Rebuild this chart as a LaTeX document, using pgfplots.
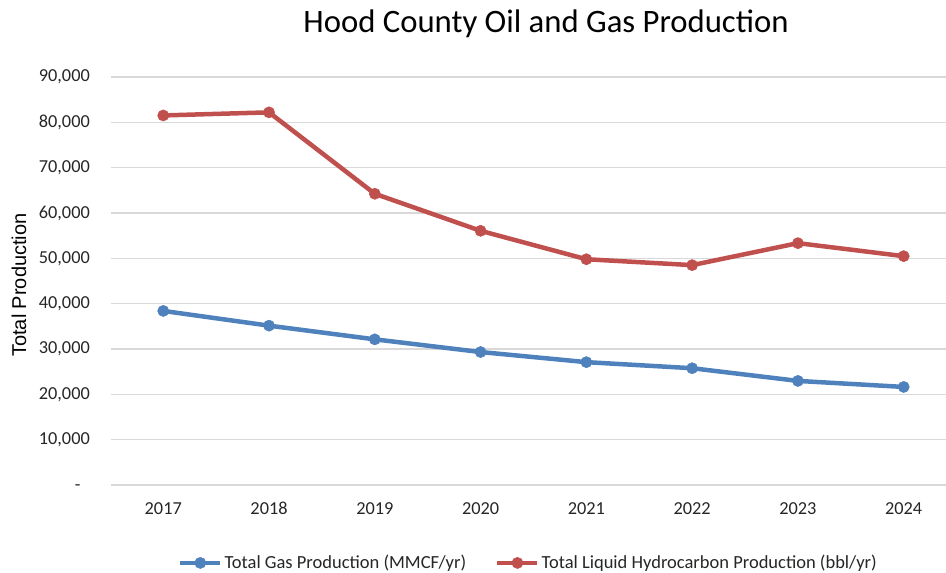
\documentclass[border=0pt]{standalone}
\usepackage{fontspec}
\setmainfont{Carlito}
\newfontfamily\arialfont{Liberation Sans}
\usepackage{pgfplots}
\pgfplotsset{compat=1.18}
\definecolor{gasblue}{HTML}{4F81BD}
\definecolor{liqred}{HTML}{C0504D}
\definecolor{gridgray}{HTML}{D9D9D9}
\begin{document}
\begin{tikzpicture}
\useasboundingbox (-111bp,-88bp) rectangle (835bp,485bp);
\begin{axis}[
  scale only axis,
  width=835bp, height=408bp,
  xmin=-0.494, xmax=7.40,
  ymin=0, ymax=90000,
  clip=false,
  scaled y ticks=false,
  axis line style={draw=none},
  tick style={draw=none},
  ymajorgrids,
  grid style={gridgray, line width=1.3bp},
  xtick={0,...,7},
  xticklabels={2017,2018,2019,2020,2021,2022,2023,2024},
  ytick={0,10000,20000,30000,40000,50000,60000,70000,80000,90000},
  yticklabels={{-\phantom{0}},{10,000},{20,000},{30,000},{40,000},{50,000},{60,000},{70,000},{80,000},{90,000}},
  /pgf/number format/assume math mode=true,
  ticklabel style={font=\fontsize{18.3bp}{22bp}\selectfont, text=black!85},
  yticklabel style={anchor=east, inner sep=0pt, xshift=-21bp},
  xticklabel style={anchor=north, inner sep=0pt, yshift=-17bp},
  legend style={draw=none, at={(rel axis cs:0.5,-0.191)}, anchor=center,
    legend columns=2, font=\fontsize{18.5bp}{22bp}\selectfont, text=black!85,
    /tikz/every even column/.append style={column sep=27bp},
    nodes={inner sep=2bp}},
  legend cell align=left,
  legend image code/.code={\draw[#1, mark repeat=2, mark phase=2] plot coordinates {(0bp,0bp) (20bp,0bp) (40bp,0bp)};},
]
\addplot[gasblue, line width=4.5bp, mark=*, mark size=5.6bp, mark options={solid, line width=0.5bp}] coordinates {
  (0,38400) (1,35150) (2,32130) (3,29330) (4,27100) (5,25760) (6,22960) (7,21630)};
\addlegendentry{Total Gas Production (MMCF/yr)}
\addplot[liqred, line width=4.5bp, mark=*, mark size=5.6bp, mark options={solid, line width=0.5bp}] coordinates {
  (0,81520) (1,82200) (2,64240) (3,56070) (4,49800) (5,48500) (6,53350) (7,50480)};
\addlegendentry{Total Liquid Hydrocarbon Production (bbl/yr)}
\node[anchor=base, font=\fontsize{32.7bp}{38bp}\selectfont, inner sep=0pt] at (rel axis cs:0.521,1.108) {Hood County Oil and Gas Production};
\node[rotate=90, anchor=center, font=\arialfont\fontsize{20bp}{24bp}\selectfont, inner sep=0pt] at ([xshift=-92bp]rel axis cs:0,0.49) {Total Production};
\end{axis}
\end{tikzpicture}
\end{document}
